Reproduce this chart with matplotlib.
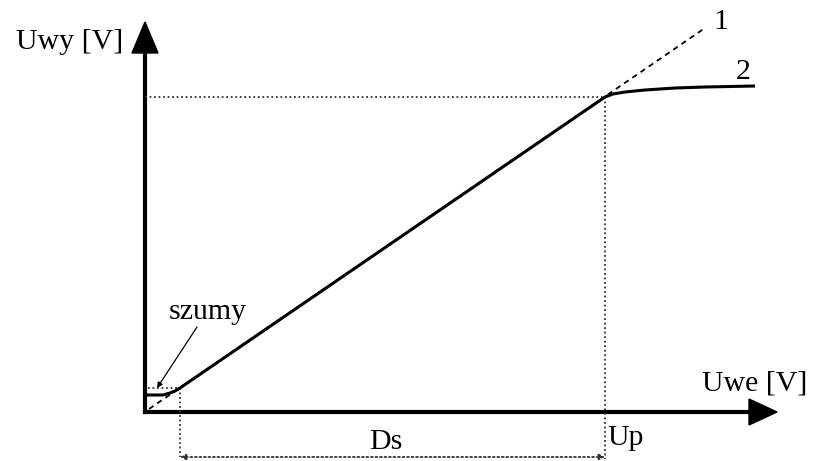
import matplotlib
matplotlib.use("Agg")
import matplotlib.pyplot as plt
from matplotlib.patches import Polygon

# ---- data (diagram units, origin at axes corner) ----
curve2_x = [0, 18, 25, 30, 35, 460, 468, 480, 500, 530, 560, 610]
curve2_y = [17, 17, 19, 21, 24, 315, 318, 320, 322, 324, 325, 326]
line1_x = [4, 560]
line1_y = [3, 384]
noise_level = 24
ds_start = 35
up_x = 460
up_y = 315
ds_y = -45

labels = {
    "Uwy [V]": (-75, 370),
    "Uwe [V]": (610, 29),
    "Up": (481, -26),
    "Ds": (241, -30),
    "szumy": (63, 100),
    "1": (576, 390),
    "2": (598, 340),
}

plt.rcParams['font.family'] = ['Liberation Serif', 'DejaVu Serif']

fig = plt.figure(figsize=(8.13, 4.61), dpi=100)
ax = fig.add_axes([0, 0, 1, 1])
ax.set_xlim(-145, 668)
ax.set_ylim(-49, 412)
ax.axis('off')

# axes
ax.plot([0, 0], [0, 362], color='black', lw=3, solid_capstyle='projecting')
ax.plot([0, 606], [0, 0], color='black', lw=3, solid_capstyle='projecting')
ax.add_patch(Polygon([[-13, 359], [13, 359], [0, 390]], closed=True, color='black'))
ax.add_patch(Polygon([[604, -13], [604, 13], [632, 0]], closed=True, color='black'))

dot = (0, (1, 1.5))
dc = '#333333'
# dotted helper lines
ax.plot([0, up_x], [up_y, up_y], color=dc, lw=1.3, ls=dot)
ax.plot([up_x, up_x], [up_y, ds_y - 2], color=dc, lw=1.3, ls=dot)
ax.plot([3, ds_start], [noise_level, noise_level], color=dc, lw=1.3, ls=dot)
ax.plot([ds_start, ds_start], [noise_level, ds_y], color=dc, lw=1.3, ls=dot)
ax.annotate('', xy=(ds_start, ds_y), xytext=(up_x, ds_y),
            arrowprops=dict(arrowstyle='<|-|>', color=dc, lw=1.3,
                            linestyle=dot, mutation_scale=8,
                            shrinkA=0, shrinkB=0))

# line 1 (ideal, dashed)
ax.plot(line1_x, line1_y, color='black', lw=1.3, ls=(0, (3, 2.5)))

# curve 2 (real)
ax.plot(curve2_x, curve2_y, color='black', lw=2.2, solid_capstyle='butt')

# szumy pointer
ax.annotate('', xy=(12, 24), xytext=(52, 85),
            arrowprops=dict(arrowstyle='-|>', color='black', lw=0.9,
                            mutation_scale=8, shrinkA=0, shrinkB=0))

fs = 21.5
for txt, (x, y) in labels.items():
    ax.text(x, y, txt, fontsize=fs, ha='center', va='center')

fig.savefig('out.png', dpi=100)
